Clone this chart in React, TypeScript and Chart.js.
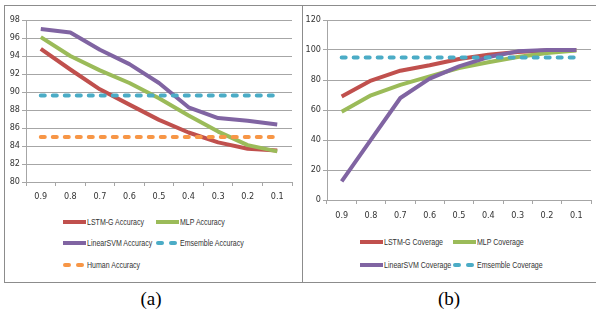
import React, { useEffect, useRef } from 'react';
import { Chart, registerables } from 'chart.js';

Chart.register(...registerables);

const FONT = '"DejaVu Sans Condensed", "Liberation Sans", sans-serif';
const LEGEND_FONT = '"Liberation Sans", Arial, sans-serif';

const categories = ['0.9', '0.8', '0.7', '0.6', '0.5', '0.4', '0.3', '0.2', '0.1'];

const accLstm = [94.8, 92.5, 90.3, 88.6, 86.9, 85.5, 84.4, 83.7, 83.5];
const accMlp = [96.1, 94.0, 92.4, 91.0, 89.3, 87.4, 85.6, 84.1, 83.4];
const accSvm = [97.0, 96.6, 94.7, 93.1, 91.0, 88.3, 87.1, 86.8, 86.4];
const accEnsemble = [89.6, 89.6, 89.6, 89.6, 89.6, 89.6, 89.6, 89.6, 89.6];
const accHuman = [85, 85, 85, 85, 85, 85, 85, 85, 85];

const covLstm = [69, 79.6, 86.2, 89.8, 94, 96.9, 98.7, 99.6, 100];
const covMlp = [58.9, 69.8, 76.7, 82.4, 88, 91.8, 95.3, 98, 99.6];
const covSvm = [12.4, 40.2, 68, 80.9, 89.1, 95.3, 99.1, 100, 100];
const covEnsemble = [95, 95, 95, 95, 95, 95, 95, 95, 95];

const accAxis = { min: 80, max: 98, step: 2 };
const covAxis = { min: 0, max: 120, step: 20 };

const RED = '#C0504D';
const GREEN = '#9BBB59';
const PURPLE = '#8064A2';
const TEAL = '#4BACC6';
const ORANGE = '#F79646';

type Series = { label: string; data: number[]; color: string; dashed: boolean };

const accSeries: Series[] = [
  { label: 'LSTM-G Accuracy', data: accLstm, color: RED, dashed: false },
  { label: 'MLP Accuracy', data: accMlp, color: GREEN, dashed: false },
  { label: 'LinearSVM Accuracy', data: accSvm, color: PURPLE, dashed: false },
  { label: 'Emsemble Accuracy', data: accEnsemble, color: TEAL, dashed: true },
  { label: 'Human Accuracy', data: accHuman, color: ORANGE, dashed: true },
];

const covSeries: Series[] = [
  { label: 'LSTM-G Coverage', data: covLstm, color: RED, dashed: false },
  { label: 'MLP Coverage', data: covMlp, color: GREEN, dashed: false },
  { label: 'LinearSVM Coverage', data: covSvm, color: PURPLE, dashed: false },
  { label: 'Emsemble Coverage', data: covEnsemble, color: TEAL, dashed: true },
];

const GRID = '#a6a6a6';
const TEXT = '#333333';

type ChartProps = {
  series: Series[];
  axis: { min: number; max: number; step: number };
  left: number;
  top: number;
  width: number;
  height: number;
  padRight: number;
  padTop: number;
  yWidth: number;
  xHeight: number;
  xPad: number;
};

function LineChart(p: ChartProps) {
  const ref = useRef<HTMLCanvasElement | null>(null);
  useEffect(() => {
    if (!ref.current) return;
    const n = p.series.length;
    const chart = new Chart(ref.current, {
      type: 'line',
      data: {
        labels: categories,
        datasets: p.series.map((s, i) => ({
          label: s.label,
          data: s.data,
          borderColor: s.color,
          backgroundColor: s.color,
          borderWidth: 4,
          borderDash: s.dashed ? [4, 8] : [],
          borderCapStyle: s.dashed ? 'round' : 'butt',
          borderJoinStyle: 'round',
          pointRadius: 0,
          tension: 0,
          fill: false,
          order: n - i,
        })),
      },
      options: {
        animation: false,
        responsive: false,
        maintainAspectRatio: false,
        layout: { padding: { left: 0, right: p.padRight, top: p.padTop, bottom: 0 } },
        plugins: { legend: { display: false }, tooltip: { enabled: false } },
        scales: {
          x: {
            offset: true,
            grid: {
              offset: true,
              drawOnChartArea: false,
              drawTicks: true,
              tickLength: 4,
              color: GRID,
            },
            border: { display: true, color: GRID },
            ticks: { color: TEXT, font: { family: FONT, size: 9 }, padding: p.xPad, maxRotation: 0 },
            afterFit: (s: any) => {
              s.height = p.xHeight;
            },
          },
          y: {
            min: p.axis.min,
            max: p.axis.max,
            grid: { color: GRID, tickLength: 4, drawTicks: true },
            border: { display: true, color: GRID },
            ticks: { stepSize: p.axis.step, color: TEXT, font: { family: FONT, size: 9 }, padding: 2 },
            afterFit: (s: any) => {
              s.width = p.yWidth;
            },
          },
        },
      },
    } as any);
    return () => chart.destroy();
  }, []);
  return (
    <canvas
      ref={ref}
      width={p.width}
      height={p.height}
      style={{ position: 'absolute', left: p.left, top: p.top, width: p.width, height: p.height }}
    />
  );
}

function LegendItem({ s, x, y }: { s: Series; x: number; y: number }) {
  return (
    <div style={{ position: 'absolute', left: x, top: y - 7, height: 14, width: 120 }}>
      {s.dashed ? (
        <>
          <div style={{ position: 'absolute', left: 0, top: 5, width: 8, height: 4, borderRadius: 2, background: s.color }} />
          <div style={{ position: 'absolute', left: 13, top: 5, width: 8, height: 4, borderRadius: 2, background: s.color }} />
        </>
      ) : (
        <div style={{ position: 'absolute', left: 0, top: 5, width: 23, height: 4, background: s.color }} />
      )}
      <span
        style={{
          position: 'absolute',
          left: 24,
          top: 0,
          fontFamily: LEGEND_FONT,
          fontSize: 9.5,
          color: TEXT,
          whiteSpace: 'nowrap',
          lineHeight: '14px',
          transform: 'scaleX(0.74)',
          transformOrigin: 'left center',
        }}
      >
        {s.label}
      </span>
    </div>
  );
}

export default function App() {
  return (
    <div style={{ position: 'fixed', left: 0, top: 0, width: 596, height: 321, background: '#fff', overflow: 'hidden' }}>
      <div
        style={{
          position: 'absolute',
          left: 4,
          top: 5,
          width: 299,
          height: 278,
          boxSizing: 'border-box',
          border: '1px solid #8c8c8c',
        }}
      />
      <div
        style={{
          position: 'absolute',
          left: 302,
          top: 5,
          width: 310,
          height: 278,
          boxSizing: 'border-box',
          border: '1px solid #8c8c8c',
          borderRight: 'none',
        }}
      />
      <LineChart
        series={accSeries}
        axis={accAxis}
        left={5}
        top={6}
        width={296}
        height={205}
        padRight={9}
        padTop={14}
        yWidth={21}
        xHeight={29}
        xPad={5}
      />
      <LineChart
        series={covSeries}
        axis={covAxis}
        left={303}
        top={6}
        width={293}
        height={220}
        padRight={5}
        padTop={14}
        yWidth={24}
        xHeight={26}
        xPad={6}
      />
      <LegendItem s={accSeries[0]} x={63} y={222} />
      <LegendItem s={accSeries[1]} x={156} y={222} />
      <LegendItem s={accSeries[2]} x={63} y={243} />
      <LegendItem s={accSeries[3]} x={156} y={243} />
      <LegendItem s={accSeries[4]} x={63} y={265} />
      <LegendItem s={covSeries[0]} x={360} y={242} />
      <LegendItem s={covSeries[1]} x={453} y={242} />
      <LegendItem s={covSeries[2]} x={360} y={265} />
      <LegendItem s={covSeries[3]} x={453} y={265} />
      <div
        style={{
          position: 'absolute',
          left: 0,
          width: 302,
          top: 288,
          textAlign: 'center',
          fontFamily: '"Liberation Serif", "Times New Roman", serif',
          fontSize: 19,
          color: '#000',
        }}
      >
        (a)
      </div>
      <div
        style={{
          position: 'absolute',
          left: 302,
          width: 294,
          top: 288,
          textAlign: 'center',
          fontFamily: '"Liberation Serif", "Times New Roman", serif',
          fontSize: 19,
          color: '#000',
        }}
      >
        (b)
      </div>
    </div>
  );
}
